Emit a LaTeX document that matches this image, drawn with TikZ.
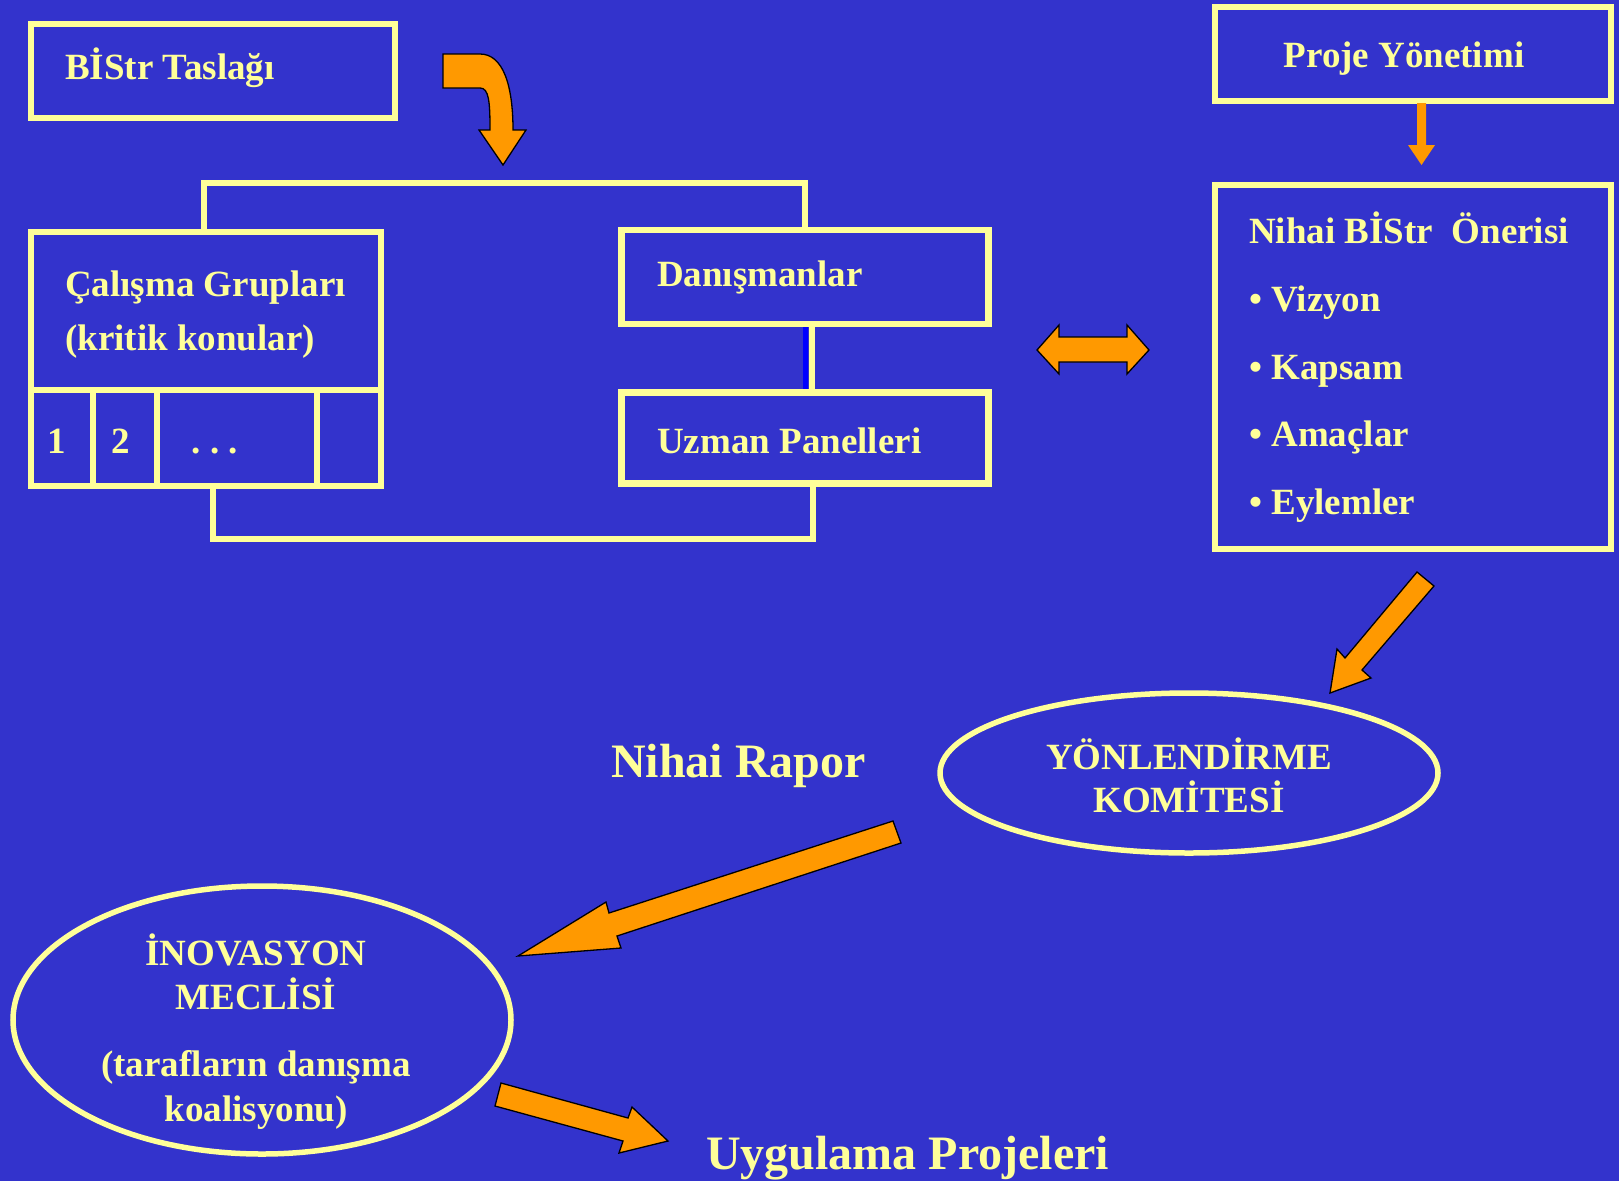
\documentclass[tikz,border=0pt]{standalone}
\usepackage{fontspec}
\usetikzlibrary{shapes.geometric}
\setmainfont{Liberation Serif}
\definecolor{bg}{HTML}{3333CC}
\definecolor{ylw}{HTML}{FFFF99}
\definecolor{org}{HTML}{FF9900}
\definecolor{pblue}{HTML}{0000FF}
\begin{document}
\begin{tikzpicture}[x=1pt,y=-1pt,
  box/.style={draw=ylw,line width=6.5pt,rectangle,inner sep=0pt},
  oval/.style={draw=ylw,line width=5.5pt,ellipse,inner sep=0pt},
  conn/.style={draw=ylw,line width=6.5pt},
  txt/.style={text=ylw,inner sep=0pt,font=\fontsize{37}{40}\selectfont\bfseries},
  otxt/.style={text=ylw,inner sep=0pt,font=\fontsize{37}{40}\selectfont\bfseries},
  btxt/.style={text=ylw,inner sep=0pt,font=\fontsize{48}{52}\selectfont\bfseries},
  oarr/.style={fill=org,draw=black,line width=1.3pt,line join=miter}]
\useasboundingbox (0,0) rectangle (1619,1181);
\fill[bg] (0,0) rectangle (1619,1181);

% boxes
\node[box,minimum width=364pt,minimum height=94pt] (bis) at (213,71) {};
\node[box,minimum width=350pt,minimum height=158pt] (cal) at (206,311) {};
\node[box,minimum width=62pt,minimum height=96pt] (c1) at (62,438) {};
\node[box,minimum width=64pt,minimum height=96pt] (c2) at (125,438) {};
\node[box,minimum width=160pt,minimum height=96pt] (c3) at (237,438) {};
\node[box,minimum width=64pt,minimum height=96pt] (c4) at (349,438) {};
\node[box,minimum width=367pt,minimum height=94pt] (dan) at (805,277) {};
\node[box,minimum width=367pt,minimum height=91pt] (uzm) at (805,438) {};
\node[box,minimum width=396pt,minimum height=94pt] (pro) at (1413,54) {};
\node[box,minimum width=396pt,minimum height=364pt] (nih) at (1413,367) {};
\node[oval,minimum width=498pt,minimum height=160pt] (yon) at (1189,773) {};
\node[oval,minimum width=498pt,minimum height=268pt] (ino) at (262,1020) {};

% connectors
\coordinate (ftl) at (204,183);
\coordinate (ftr) at (805,183);
\draw[conn] (ftl |- cal.north) -- (ftl) -- (ftr) -- (ftr |- dan.north);
\coordinate (lkb) at (805.5,350);
\coordinate (lky) at (812,350);
\draw[draw=pblue,line width=5pt] (lkb |- dan.south) -- (lkb |- uzm.north);
\draw[conn] (lky |- dan.south) -- (lky |- uzm.north);
\coordinate (fb1) at (213,539);
\coordinate (fb2) at (813,539);
\draw[conn] (fb1 |- c3.south) -- (fb1) -- (fb2) -- (fb2 |- uzm.south);

% texts
\node[txt,anchor=base west] (tbis) at (65,79) {BİStr Taslağı};
\node[txt,anchor=base west] (tcal1) at (65,296) {Çalışma Grupları};
\node[txt,anchor=base west] (tcal2) at (65,350) {(kritik konular)};
\node[txt,anchor=base] (t1) at (57,453) {1};
\node[txt,anchor=base] (t2) at (121,453) {2};
\node[txt,anchor=base] (t3) at (215,453) {.\ .\ .};
\node[txt,anchor=base west] (tdan) at (657,286) {Danışmanlar};
\node[txt,anchor=base west] (tuzm) at (657,453) {Uzman Panelleri};
\node[txt,anchor=base] (tpro) at (1404,67) {Proje Yönetimi};
\node[txt,anchor=base west] (tn1) at (1249,243) {Nihai BİStr\ \ Önerisi};
\node[txt,anchor=base west] (tn2) at (1249,311) {• Vizyon};
\node[txt,anchor=base west] (tn3) at (1249,379) {• Kapsam};
\node[txt,anchor=base west] (tn4) at (1249,446) {• Amaçlar};
\node[txt,anchor=base west] (tn5) at (1249,514) {• Eylemler};
\node[otxt,anchor=base] (ty1) at (1189,769) {YÖNLENDİRME};
\node[otxt,anchor=base] (ty2) at (1189,812) {KOMİTESİ};
\node[otxt,anchor=base] (ti1) at (256,965) {İNOVASYON};
\node[otxt,anchor=base] (ti2) at (256,1009) {MECLİSİ};
\node[otxt,anchor=base] (ti3) at (256,1076) {(tarafların danışma};
\node[otxt,anchor=base] (ti4) at (256,1121) {koalisyonu)};
\node[btxt,anchor=base west] (tnr) at (611,777) {Nihai Rapor};
\node[btxt,anchor=base west] (tuyg) at (706,1169) {Uygulama Projeleri};

% block arrows
\filldraw[oarr] (443,54) -- (480,54) .. controls (503,54) and (513,85) .. (513,130)
  -- (526,130) -- (503,165) -- (479,130) -- (490,130)
  .. controls (490,102) and (489,88) .. (480,88) -- (443,88) -- cycle;
\fill[org] (1417,103) -- (1426,103) -- (1426,145) -- (1435,145) -- (1421.5,165)
  -- (1408,145) -- (1417,145) -- cycle;
\filldraw[oarr] (1037,350) -- (1059,325) -- (1059,337) -- (1127,337) -- (1127,325)
  -- (1149,350) -- (1127,374) -- (1127,362) -- (1059,362) -- (1059,374) -- cycle;
\filldraw[oarr] (1417,572) -- (1434,586) -- (1362,670) -- (1371,678) -- (1330,693)
  -- (1337,649) -- (1345,658) -- cycle;
\filldraw[oarr] (518,956) -- (606,902) -- (609,913) -- (893,821) -- (901,843)
  -- (617,936) -- (621,948) -- cycle;
\filldraw[oarr] (501,1083) -- (628,1118) -- (632,1107) -- (668,1141) -- (619,1153)
  -- (623,1141) -- (495,1106) -- cycle;
\end{tikzpicture}
\end{document}
